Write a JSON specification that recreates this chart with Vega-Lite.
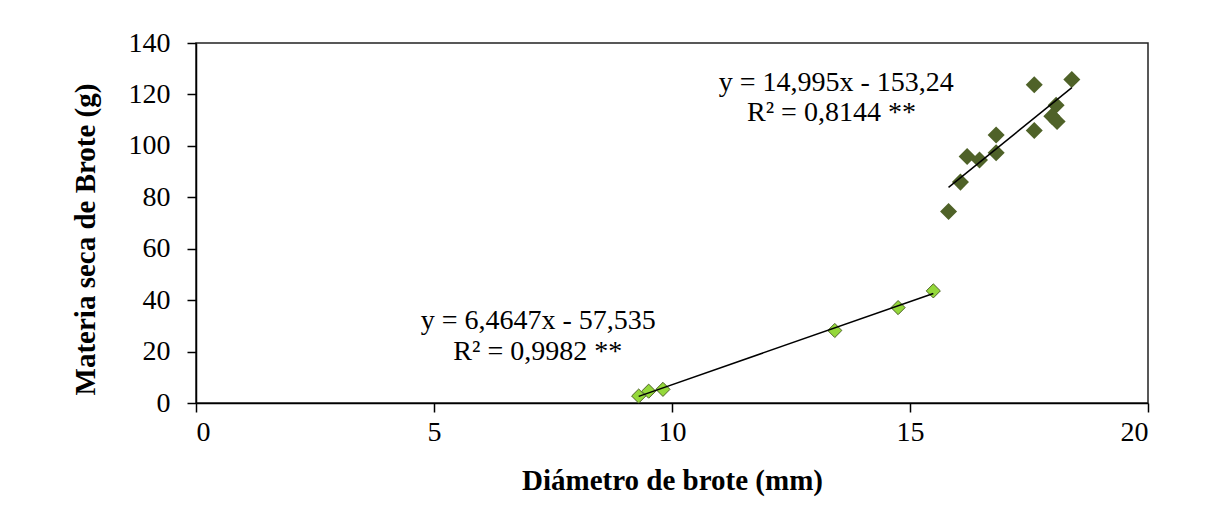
{
  "$schema": "https://vega.github.io/schema/vega-lite/v6.json",
  "width": 952,
  "height": 360,
  "autosize": {"type": "none"},
  "padding": {"left": 196, "top": 43, "right": 57, "bottom": 113},
  "background": "white",
  "config": {
    "view": {"stroke": "#222222", "strokeWidth": 1.5},
    "font": "Liberation Serif",
    "axis": {
      "grid": false,
      "domainColor": "black",
      "domainWidth": 1.5,
      "tickColor": "black",
      "tickWidth": 1.5,
      "tickSize": 9,
      "labelFont": "Liberation Serif",
      "labelFontSize": 28,
      "labelColor": "black",
      "titleFont": "Liberation Serif",
      "titleFontSize": 29,
      "titleFontWeight": "bold",
      "titleColor": "black"
    }
  },
  "datasets": {
    "puntos": [
      {"diametro": 9.30, "materia": 2.7, "grupo": "claro"},
      {"diametro": 9.51, "materia": 4.6, "grupo": "claro"},
      {"diametro": 9.81, "materia": 5.3, "grupo": "claro"},
      {"diametro": 13.42, "materia": 28.2, "grupo": "claro"},
      {"diametro": 14.75, "materia": 37.1, "grupo": "claro"},
      {"diametro": 15.49, "materia": 43.6, "grupo": "claro"},
      {"diametro": 15.81, "materia": 74.5, "grupo": "oscuro"},
      {"diametro": 16.06, "materia": 85.9, "grupo": "oscuro"},
      {"diametro": 16.20, "materia": 95.9, "grupo": "oscuro"},
      {"diametro": 16.46, "materia": 94.5, "grupo": "oscuro"},
      {"diametro": 16.81, "materia": 104.2, "grupo": "oscuro"},
      {"diametro": 16.81, "materia": 97.3, "grupo": "oscuro"},
      {"diametro": 17.61, "materia": 123.8, "grupo": "oscuro"},
      {"diametro": 17.61, "materia": 106.0, "grupo": "oscuro"},
      {"diametro": 18.07, "materia": 115.8, "grupo": "oscuro"},
      {"diametro": 17.98, "materia": 111.5, "grupo": "oscuro"},
      {"diametro": 18.09, "materia": 109.5, "grupo": "oscuro"},
      {"diametro": 18.40, "materia": 125.8, "grupo": "oscuro"}
    ],
    "tendencias": [
      {"diametro": 9.30, "materia": 2.587, "grupo": "claro"},
      {"diametro": 15.49, "materia": 42.603, "grupo": "claro"},
      {"diametro": 15.81, "materia": 83.831, "grupo": "oscuro"},
      {"diametro": 18.40, "materia": 122.668, "grupo": "oscuro"}
    ],
    "ecuaciones": [
      {"diametro": 13.45, "materia": 121.2, "texto": "y = 14,995x - 153,24"},
      {"diametro": 13.35, "materia": 109.5, "texto": "R² = 0,8144 **"},
      {"diametro": 7.19, "materia": 28.6, "texto": "y = 6,4647x - 57,535"},
      {"diametro": 7.18, "materia": 16.9, "texto": "R² = 0,9982 **"}
    ]
  },
  "layer": [
    {
      "data": {"name": "puntos"},
      "transform": [{"filter": "datum.grupo === 'claro'"}],
      "mark": {"type": "point", "shape": "diamond", "filled": true, "size": 200, "fill": "#94D83A", "stroke": "#4F6228", "strokeWidth": 1, "opacity": 1},
      "encoding": {
        "x": {
          "field": "diametro", "type": "quantitative",
          "scale": {"domain": [0, 20], "nice": false, "zero": false},
          "axis": {"values": [0, 5, 10, 15, 20], "title": "Diámetro de brote (mm)", "labelPadding": 6, "titleBaseline": "alphabetic", "titleY": 86}
        },
        "y": {
          "field": "materia", "type": "quantitative",
          "scale": {"domain": [0, 140], "nice": false},
          "axis": {"values": [0, 20, 40, 60, 80, 100, 120, 140], "title": "Materia seca de Brote (g)", "labelPadding": 17, "titleBaseline": "alphabetic", "titleX": -102, "titleY": 196}
        }
      }
    },
    {
      "data": {"name": "puntos"},
      "transform": [{"filter": "datum.grupo === 'oscuro'"}],
      "mark": {"type": "point", "shape": "diamond", "filled": true, "size": 290, "fill": "#4F6228", "strokeWidth": 0, "opacity": 1},
      "encoding": {
        "x": {"field": "diametro", "type": "quantitative"},
        "y": {"field": "materia", "type": "quantitative"}
      }
    },
    {
      "data": {"name": "tendencias"},
      "mark": {"type": "line", "color": "black", "strokeWidth": 1.5},
      "encoding": {
        "x": {"field": "diametro", "type": "quantitative"},
        "y": {"field": "materia", "type": "quantitative"},
        "detail": {"field": "grupo"}
      }
    },
    {
      "data": {"name": "ecuaciones"},
      "mark": {"type": "text", "font": "Liberation Serif", "fontSize": 28, "align": "center", "baseline": "alphabetic", "color": "black"},
      "encoding": {
        "x": {"field": "diametro", "type": "quantitative"},
        "y": {"field": "materia", "type": "quantitative"},
        "text": {"field": "texto"}
      }
    }
  ]
}
